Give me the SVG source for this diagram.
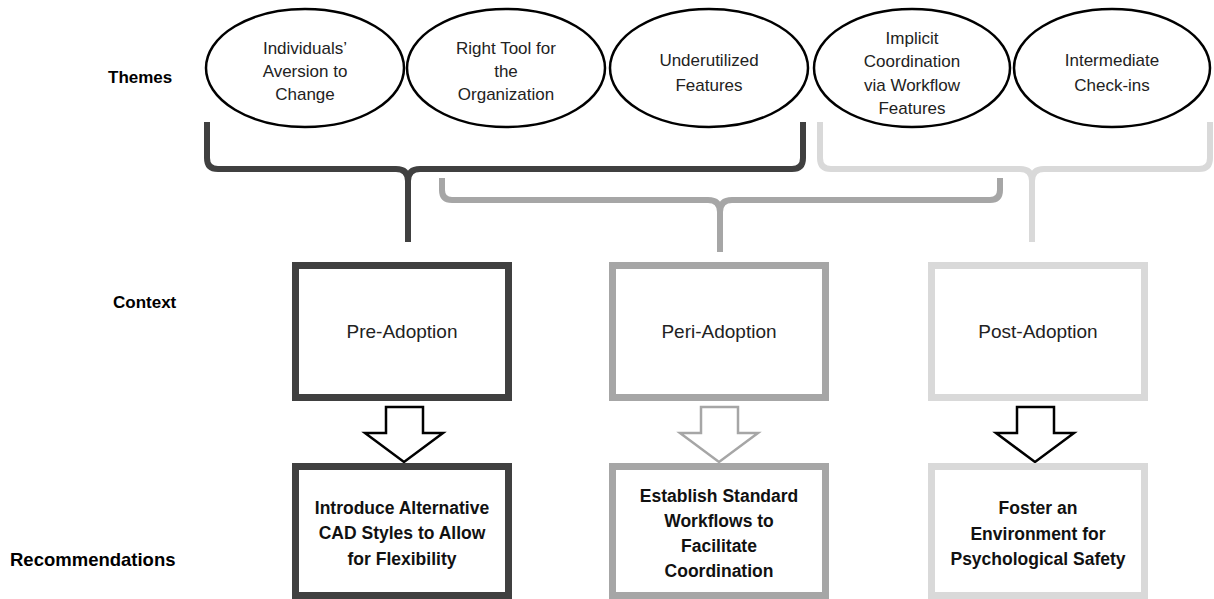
<svg xmlns="http://www.w3.org/2000/svg" width="1214" height="599" viewBox="0 0 1214 599">
<style>
.lbl{font-family:"Liberation Sans",Arial,sans-serif;font-weight:bold;font-size:17px;fill:#000}
.t{font-family:"Liberation Sans",Arial,sans-serif;font-size:17px;fill:#222;text-anchor:middle}
.ctx{font-family:"Liberation Sans",Arial,sans-serif;font-size:19px;fill:#222;text-anchor:middle}
.rec{font-family:"Liberation Sans",Arial,sans-serif;font-weight:bold;font-size:17.5px;fill:#111;text-anchor:middle}
.ell{fill:#fff;stroke:#000;stroke-width:2.5}
.br{fill:none;stroke-width:6;stroke-linejoin:round}
.box{fill:#fff;stroke-width:7}
.arr{fill:#fff;stroke-width:2.5;stroke-linejoin:miter}
</style>
<rect width="1214" height="599" fill="#fff"/>
<g id="labels">
<text class="lbl" x="108" y="83">Themes</text>
<text class="lbl" x="113" y="308">Context</text>
<text class="lbl" x="10" y="566" style="font-size:18.5px">Recommendations</text>
</g>
<g id="connectors">
<path class="br" stroke="#404040" d="M207 122 V158 Q207 169 218 169 H396 Q408 169 408 181 V242 M408 181 Q408 169 420 169 H792 Q803 169 803 158 V122"/>
<path class="br" stroke="#d9d9d9" d="M820 122 V158 Q820 169 831 169 H1020 Q1032 169 1032 181 V242 M1032 181 Q1032 169 1044 169 H1199 Q1210 169 1210 158 V122"/>
<path class="br" stroke="#a6a6a6" d="M442 178 V190 Q442 200 452 200 H708 Q720 200 720 212 V252 M720 212 Q720 200 732 200 H990 Q1000 200 1000 190 V178"/>
</g>
<g id="theme1"><ellipse class="ell" cx="305" cy="68" rx="99" ry="59"/>
<text class="t" x="305" y="54">Individuals’</text><text class="t" x="305" y="77">Aversion to</text><text class="t" x="305" y="100">Change</text></g>
<g id="theme2"><ellipse class="ell" cx="506" cy="68" rx="99" ry="59"/>
<text class="t" x="506" y="54">Right Tool for</text><text class="t" x="506" y="77">the</text><text class="t" x="506" y="100">Organization</text></g>
<g id="theme3"><ellipse class="ell" cx="709" cy="68" rx="99" ry="59"/>
<text class="t" x="709" y="66">Underutilized</text><text class="t" x="709" y="91">Features</text></g>
<g id="theme4"><ellipse class="ell" cx="912" cy="68" rx="98" ry="59"/>
<text class="t" x="912" y="44">Implicit</text><text class="t" x="912" y="67">Coordination</text><text class="t" x="912" y="91">via Workflow</text><text class="t" x="912" y="114">Features</text></g>
<g id="theme5"><ellipse class="ell" cx="1112" cy="68" rx="98" ry="59"/>
<text class="t" x="1112" y="66">Intermediate</text><text class="t" x="1112" y="91">Check-ins</text></g>
<g id="ctx1"><rect class="box" stroke="#404040" x="295.5" y="265.5" width="213" height="132"/>
<text class="ctx" x="402" y="338">Pre-Adoption</text></g>
<g id="ctx2"><rect class="box" stroke="#a6a6a6" x="612.5" y="265.5" width="213" height="132"/>
<text class="ctx" x="719" y="338">Peri-Adoption</text></g>
<g id="ctx3"><rect class="box" stroke="#d9d9d9" x="931.5" y="265.5" width="213" height="132"/>
<text class="ctx" x="1038" y="338">Post-Adoption</text></g>
<g id="arrows">
<path class="arr" stroke="#000" d="M386 407 H423 V433 H443 L404 462 L365 433 H386 Z"/>
<path class="arr" stroke="#a6a6a6" d="M701 407 H738 V433 H758 L719 462 L680 433 H701 Z"/>
<path class="arr" stroke="#000" d="M1017 407 H1054 V433 H1074 L1035 462 L996 433 H1017 Z"/>
</g>
<g id="rec1"><rect class="box" stroke="#404040" x="295.5" y="466.5" width="213" height="129"/>
<text class="rec" x="402" y="514">Introduce Alternative</text><text class="rec" x="402" y="539">CAD Styles to Allow</text><text class="rec" x="402" y="565">for Flexibility</text></g>
<g id="rec2"><rect class="box" stroke="#a6a6a6" x="612.5" y="466.5" width="213" height="129"/>
<text class="rec" x="719" y="502">Establish Standard</text><text class="rec" x="719" y="527">Workflows to</text><text class="rec" x="719" y="552">Facilitate</text><text class="rec" x="719" y="577">Coordination</text></g>
<g id="rec3"><rect class="box" stroke="#d9d9d9" x="931.5" y="466.5" width="213" height="129"/>
<text class="rec" x="1038" y="514">Foster an</text><text class="rec" x="1038" y="540">Environment for</text><text class="rec" x="1038" y="565">Psychological Safety</text></g>
</svg>
